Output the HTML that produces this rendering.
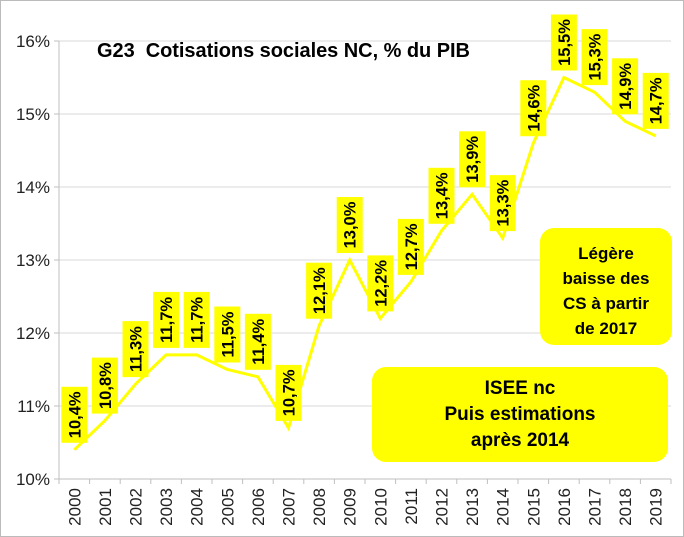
<!DOCTYPE html>
<html><head><meta charset="utf-8"><style>
html,body{margin:0;padding:0;background:#fff}
svg{display:block;font-family:"Liberation Sans",Arial,sans-serif}
</style></head><body>
<svg id="chart" width="684" height="537">
<rect x="0.5" y="0.5" width="683" height="536" fill="#fff" stroke="#bbb"/>
<g id="grid"></g><g id="axes"></g><g id="series"></g><g id="labels"></g>
<text x="97" y="57" font-size="20" font-weight="bold" fill="#000" xml:space="preserve" textLength="373">G23  Cotisations sociales NC, % du PIB</text>
<rect x="540" y="228" width="132" height="117" rx="14" fill="#ffff00"/>
<text font-size="17" font-weight="bold" text-anchor="middle" fill="#000"><tspan x="606" y="259">Légère</tspan><tspan x="606" y="284">baisse des</tspan><tspan x="606" y="309">CS à partir</tspan><tspan x="606" y="334">de 2017</tspan></text>
<rect x="372" y="367" width="296" height="95" rx="14" fill="#ffff00"/>
<text font-size="19" font-weight="bold" text-anchor="middle" fill="#000"><tspan x="520" y="394">ISEE nc</tspan><tspan x="520" y="420">Puis estimations</tspan><tspan x="520" y="446">après 2014</tspan></text>
</svg>
<script>
const years=["2000","2001","2002","2003","2004","2005","2006","2007","2008","2009","2010","2011","2012","2013","2014","2015","2016","2017","2018","2019"];
const values=[10.4,10.8,11.3,11.7,11.7,11.5,11.4,10.7,12.1,13.0,12.2,12.7,13.4,13.9,13.3,14.6,15.5,15.3,14.9,14.7];
const valueLabels=["10,4%","10,8%","11,3%","11,7%","11,7%","11,5%","11,4%","10,7%","12,1%","13,0%","12,2%","12,7%","13,4%","13,9%","13,3%","14,6%","15,5%","15,3%","14,9%","14,7%"];
const yTicks=[10,11,12,13,14,15,16];
const yTickLabels=["10%","11%","12%","13%","14%","15%","16%"];
const NS="http://www.w3.org/2000/svg";
const x0=59,x1=671,yMin=10,yMax=16,yBot=479,yTop=41;
const step=(x1-x0)/years.length;
function xs(i){return x0+step*(i+0.5);}
function ys(v){return yBot-(v-yMin)/(yMax-yMin)*(yBot-yTop);}
function mk(t,a,p){const e=document.createElementNS(NS,t);for(const k in a)e.setAttribute(k,a[k]);p.appendChild(e);return e;}
const grid=document.getElementById('grid'),axes=document.getElementById('axes'),ser=document.getElementById('series'),lab=document.getElementById('labels');
yTicks.forEach((v,i)=>{
 const g=mk('line',{x1:x0,x2:x1,y1:ys(v),y2:ys(v),stroke:'#d9d9d9','stroke-width':1},grid);
 
 
 const tk=mk('line',{x1:x0-5,x2:x0,y1:ys(v),y2:ys(v),stroke:'#bfbfbf'},axes);
 
 
 const t=mk('text',{x:x0-9,y:ys(v)+6,'font-size':17,'text-anchor':'end',fill:'#222'},axes);
 t.textContent=yTickLabels[i];
 
 
});
const ya=mk('line',{x1:x0,x2:x0,y1:yTop,y2:yBot+5,stroke:'#bfbfbf'},axes);


const xa=mk('line',{x1:x0,x2:x1,y1:yBot,y2:yBot,stroke:'#bfbfbf'},axes);


years.forEach((y,i)=>{
 const tk=mk('line',{x1:x0+step*(i+1),x2:x0+step*(i+1),y1:yBot,y2:yBot+5,stroke:'#bfbfbf'},axes);
 
 
 const t=mk('text',{transform:`translate(${xs(i)+6},${yBot+9}) rotate(-90)`,'font-size':17,'text-anchor':'end',fill:'#222'},axes);
 t.textContent=y;
 
 
});
const pl=mk('polyline',{points:values.map((v,i)=>xs(i)+','+ys(v)).join(' '),fill:'none',stroke:'#ffff00','stroke-width':3},ser);


values.forEach((v,i)=>{
 const cx=xs(i),by=ys(v)-7,h=56,w=26;
 const r=mk('rect',{x:cx-w/2,y:by-h,width:w,height:h,fill:'#ffff00'},lab);
 
 
 const t=mk('text',{transform:`translate(${cx+6},${by-h/2}) rotate(-90)`,'font-size':16.5,'font-weight':'bold','text-anchor':'middle',fill:'#000'},lab);
 t.textContent=valueLabels[i];
 
 
});
</script>
</body></html>
